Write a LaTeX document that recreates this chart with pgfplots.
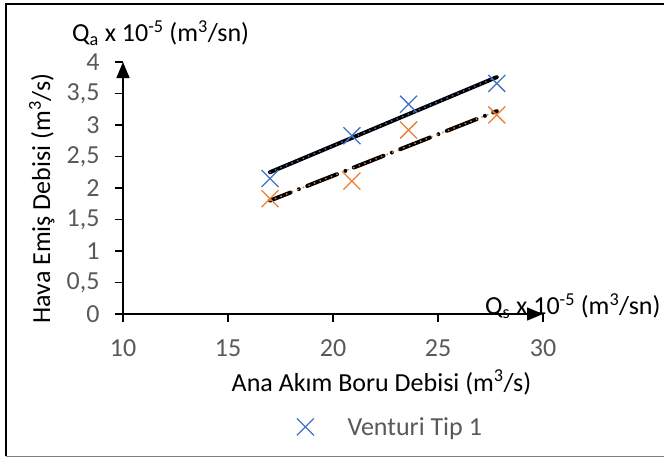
\documentclass[border=0pt]{standalone}
\usepackage{fontspec}
\setmainfont{Carlito}
\usepackage{pgfplots}
\pgfplotsset{compat=1.18}
\usetikzlibrary{arrows.meta}
\definecolor{xlblue}{HTML}{4472C4}
\definecolor{xlorange}{HTML}{ED7D31}
\definecolor{tickgray}{HTML}{595959}
\newcommand{\bigfont}{\fontsize{26}{31}\selectfont}
\begin{document}
\begin{tikzpicture}[x=1pt,y=1pt]
\useasboundingbox (0,0) rectangle (664,458);
% chart area frame (right edge is outside the picture)
\draw[line width=1.5pt] (6,2) -- (6,454) -- (670,454);
\draw[line width=1pt, gray] (6,2) -- (670,2);
% axis end captions, drawn first so the arrow heads sit on top
\node[anchor=base west, inner sep=0pt, font=\bigfont] at (72,416)
  {Q\textsubscript{a} x 10\textsuperscript{-5} (m\textsuperscript{3}/sn)};
\node[anchor=base west, inner sep=0pt, font=\bigfont] at (485,143)
  {Q\textsubscript{s} x 10\textsuperscript{-5} (m\textsuperscript{3}/sn)};
\begin{axis}[
  at={(123pt,144pt)}, anchor=south west,
  scale only axis, width=420pt, height=252pt,
  xmin=10, xmax=30, ymin=0, ymax=4,
  axis lines=left, clip=false,
  axis line style={line width=1.5pt, -{Triangle[length=16pt,width=13pt]}},
  xtick={10,15,20,25,30},
  ytick={0,0.5,1,1.5,2,2.5,3,3.5,4},
  yticklabels={0,{0,5},1,{1,5},2,{2,5},3,{3,5},4},
  tick align=outside, major tick length=8pt,
  tick style={line width=1.2pt, black},
  ticklabel style={font=\bigfont, text=tickgray},
  xticklabel style={yshift=-14pt},
  yticklabel style={xshift=-12pt},
  /pgf/number format/assume math mode=true,
  xlabel={Ana Akım Boru Debisi (m\textsuperscript{3}/s)},
  ylabel={Hava Emiş Debisi (m\textsuperscript{3}/s)},
  label style={font=\bigfont},
  xlabel style={at={(rel axis cs:0.6155,-0.3056)}, anchor=base},
  ylabel style={at={(rel axis cs:-0.1738,0.458)}, anchor=base},
  legend style={draw=none, fill=none, inner sep=0pt,
    at={(rel axis cs:0.412,-0.448)}, anchor=west,
    font=\bigfont, text=tickgray, nodes={inner sep=2pt}},
  legend image code/.code={\draw[#1] plot coordinates {(8.5pt,0pt)};
    \path (0pt,0pt) (48pt,0pt);},
]
% trendlines (black under-stroke with coloured dots on top)
\addplot[forget plot, black, line width=4pt, line cap=round]
  coordinates {(17,2.25) (27.8,3.76)};
\addplot[forget plot, xlblue, line width=2pt, line cap=round,
  dash pattern=on 0pt off 6pt]
  coordinates {(17,2.25) (27.8,3.76)};
\addplot[forget plot, black, line width=4pt, line cap=round,
  dash pattern=on 32pt off 9pt on 0pt off 9pt, dash phase=10pt]
  coordinates {(17,1.80) (27.8,3.22)};
\addplot[forget plot, xlorange, line width=2pt, line cap=round,
  dash pattern=on 0pt off 6pt]
  coordinates {(17,1.80) (27.8,3.22)};
% measured points
\addplot[only marks, mark=x, mark size=12pt, xlblue, line width=1.3pt]
  coordinates {(17,2.15) (20.9,2.83) (23.6,3.33) (27.8,3.66)};
\addlegendentry{Venturi Tip 1}
\addplot[forget plot, only marks, mark=x, mark size=12pt, xlorange, line width=1.3pt]
  coordinates {(17,1.83) (20.9,2.11) (23.6,2.92) (27.8,3.16)};
\end{axis}
\end{tikzpicture}
\end{document}
